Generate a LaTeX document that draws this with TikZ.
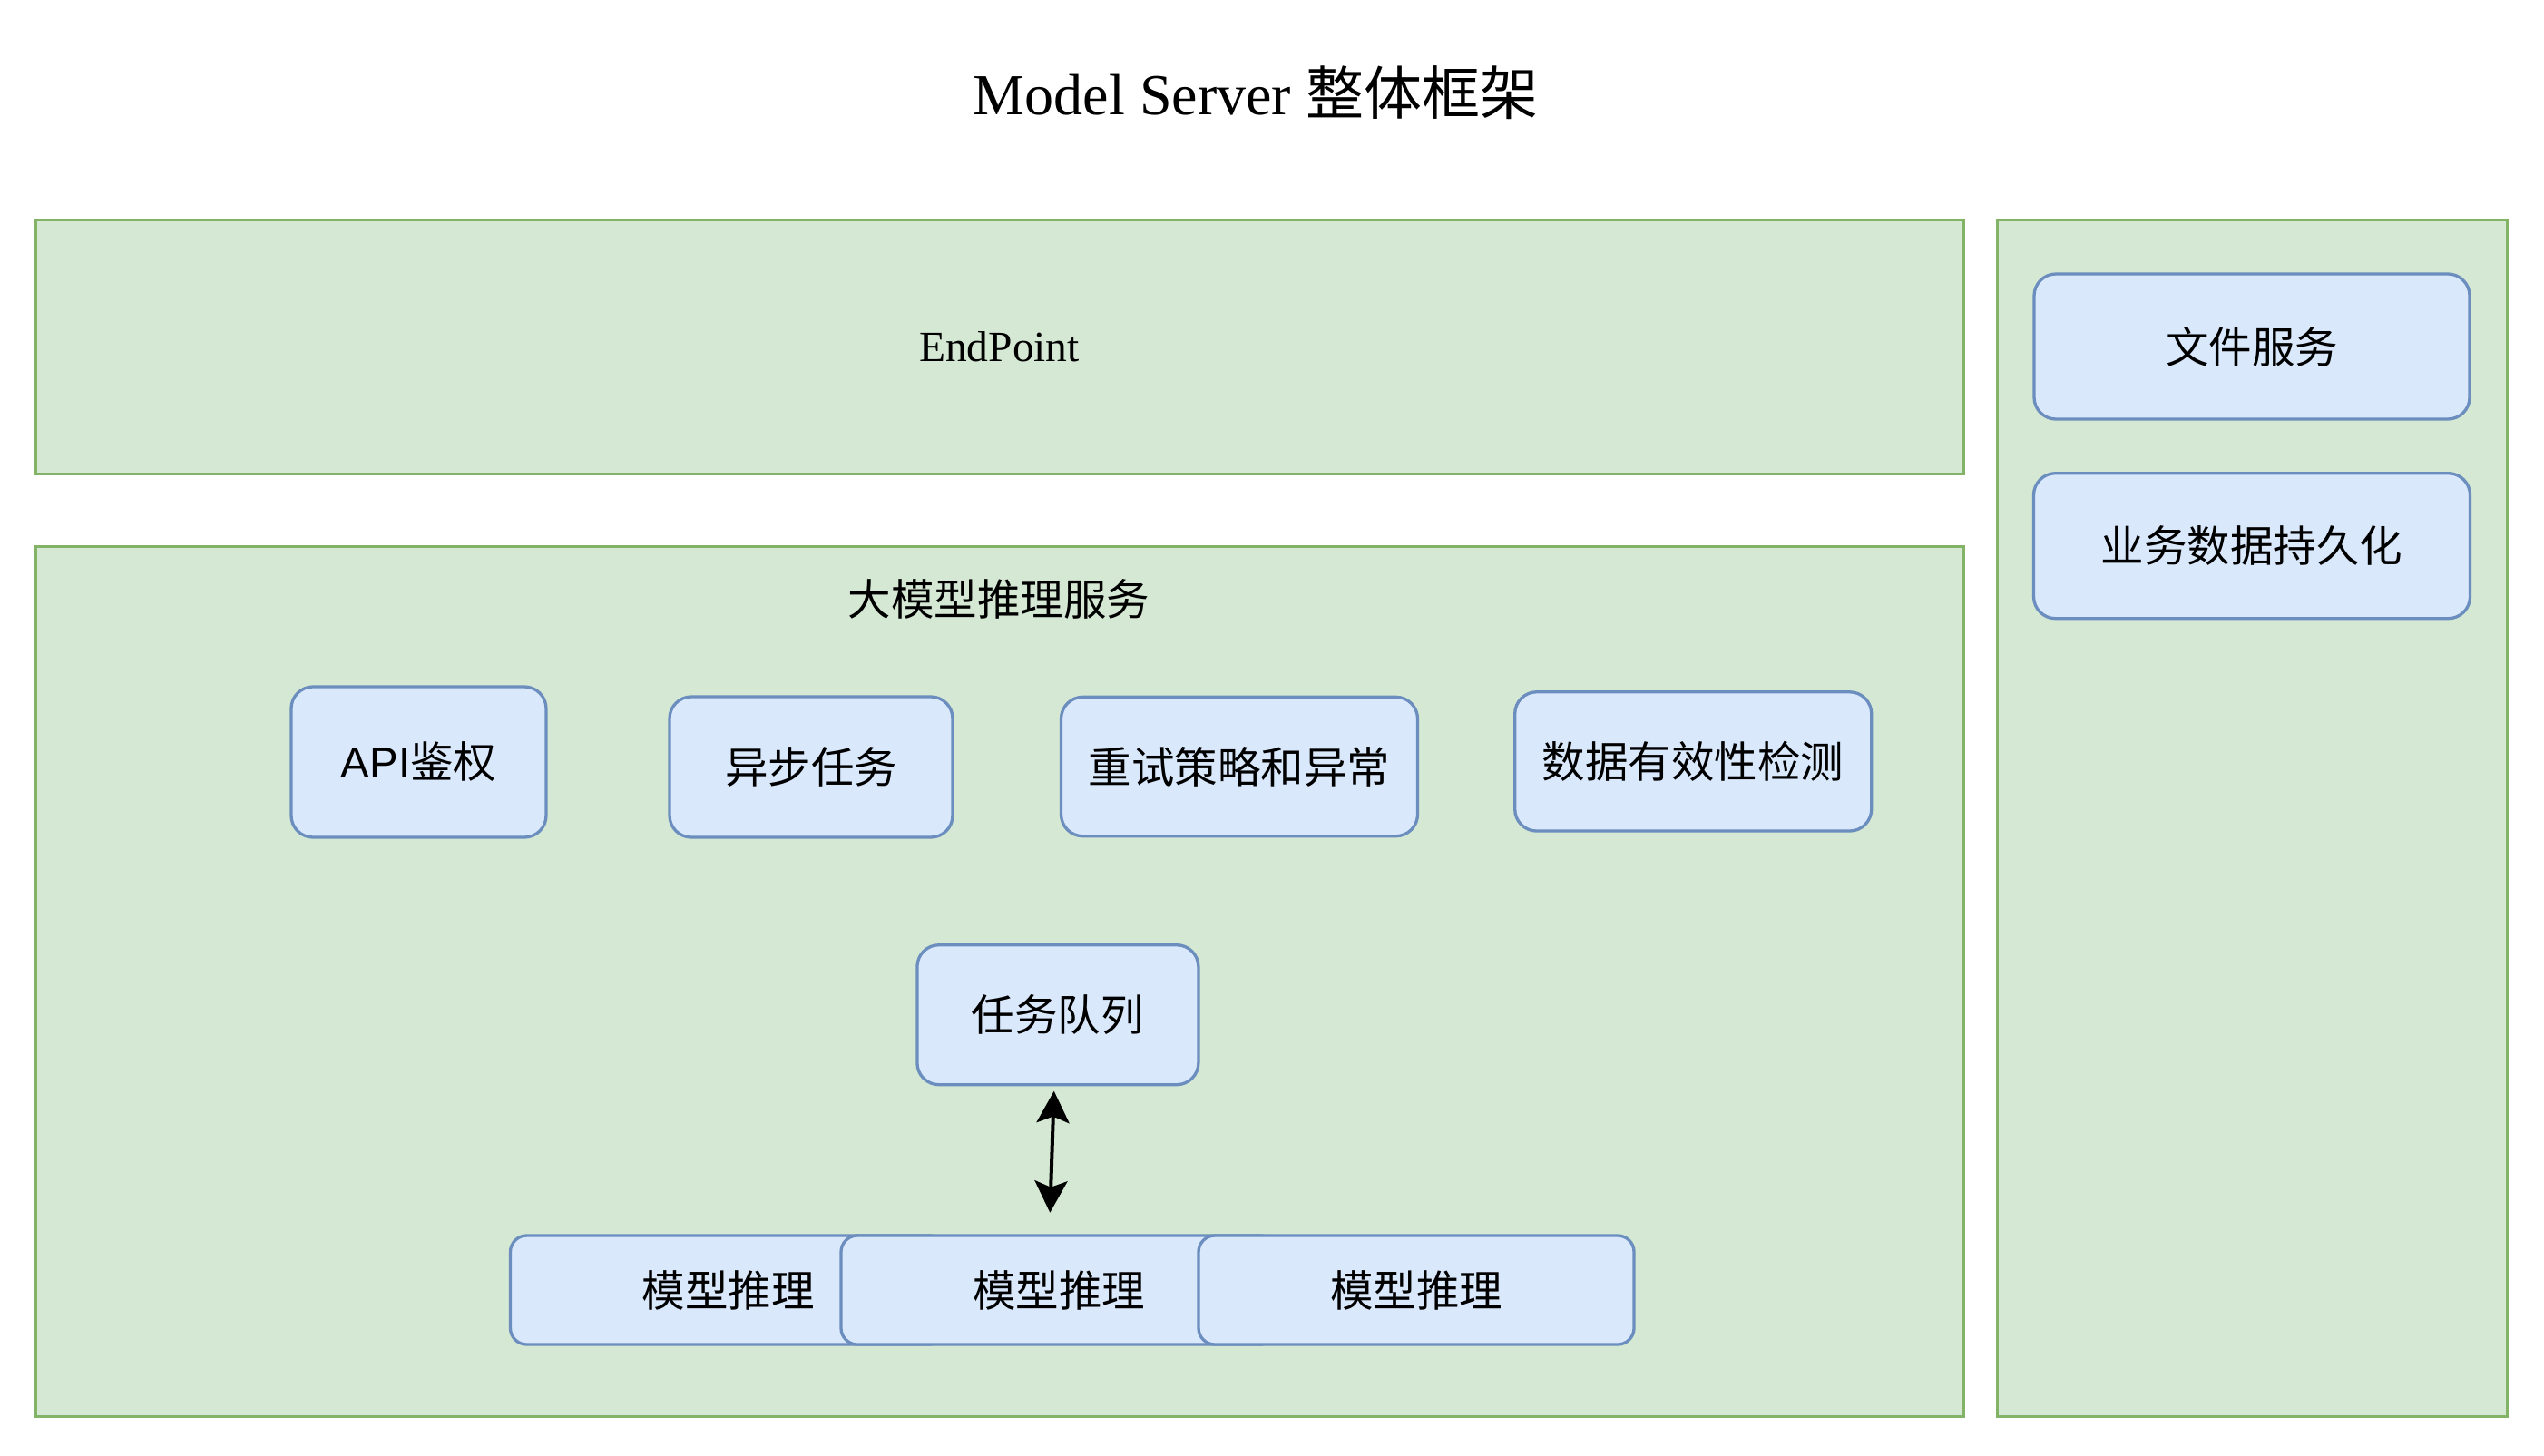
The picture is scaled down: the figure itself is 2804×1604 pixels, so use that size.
\documentclass[tikz,border=0pt]{standalone}
\usepackage{fontspec}
\setmainfont{Liberation Serif}
\newfontfamily\cjk{Noto Sans CJK SC}
\newfontfamily\lsans{Liberation Sans}
\usetikzlibrary{arrows.meta}
\definecolor{gfill}{HTML}{D5E8D4}
\definecolor{gline}{HTML}{82B366}
\definecolor{bfill}{HTML}{DAE8FC}
\definecolor{bline}{HTML}{6C8EBF}
\tikzset{
  greenbox/.style={draw=gline, fill=gfill, line width=3pt, inner sep=0pt, outer sep=0pt},
  bluebox/.style={draw=bline, fill=bfill, line width=3.3pt, rounded corners=24pt, inner sep=0pt, outer sep=0pt,
    font=\fontsize{47.5}{52}\selectfont\cjk},
  modelbox/.style={bluebox, rounded corners=18pt, minimum width=480pt, minimum height=120pt},
  lbl/.style={inner sep=0pt, font=\fontsize{47.5}{52}\selectfont\cjk},
  biarrow/.style={line width=4pt, {Stealth[length=35pt,width=36pt,inset=7pt]}-{Stealth[length=35pt,width=36pt,inset=7pt]}}
}
\begin{document}
\begin{tikzpicture}[x=1pt,y=-1pt]
\useasboundingbox (0,0) rectangle (2804,1604);
\fill[white] (0,0) rectangle (2804,1604);

\node[anchor=base, inner sep=0pt, font=\fontsize{64}{70}\selectfont] (title) at (1384,126) {Model Server {\cjk 整体框架}};

\node[greenbox, minimum width=2125pt, minimum height=280pt, font=\fontsize{47.5}{52}\selectfont] (endpoint) at (1101.5,382) {EndPoint};
\node[greenbox, minimum width=562pt, minimum height=1319pt] (right) at (2482,901.5) {};
\node[greenbox, minimum width=2125pt, minimum height=958.4pt] (infer) at (1101.5,1081.8) {};
\node[lbl] (inferlbl) at (1101,660) {大模型推理服务};

\node[bluebox, minimum width=480pt, minimum height=160pt] (file) at (2482,382) {文件服务};
\node[bluebox, minimum width=481pt, minimum height=160pt] (persist) at (2482,601.7) {业务数据持久化};

\node[bluebox, minimum width=281pt, minimum height=166pt] (api) at (461.5,840) {{\lsans API}鉴权};
\node[bluebox, minimum width=312pt, minimum height=155pt] (async) at (894,845.5) {异步任务};
\node[bluebox, minimum width=393pt, minimum height=153.4pt] (retry) at (1366,845) {重试策略和异常};
\node[bluebox, minimum width=393pt, minimum height=153.3pt] (valid) at (1866.2,839.4) {数据有效性检测};

\node[bluebox, minimum width=310pt, minimum height=154pt] (queue) at (1165.9,1118.7) {任务队列};

\node[modelbox] (m1) at (802.5,1422) {模型推理};
\node[modelbox] (m2) at (1167,1422) {模型推理};
\node[modelbox] (m3) at (1561,1422) {模型推理};

\coordinate (qend) at (1161.7,1202.7);
\coordinate (mend) at (1157.3,1336.7);
\draw[biarrow] (qend) -- (mend);
\end{tikzpicture}
\end{document}
